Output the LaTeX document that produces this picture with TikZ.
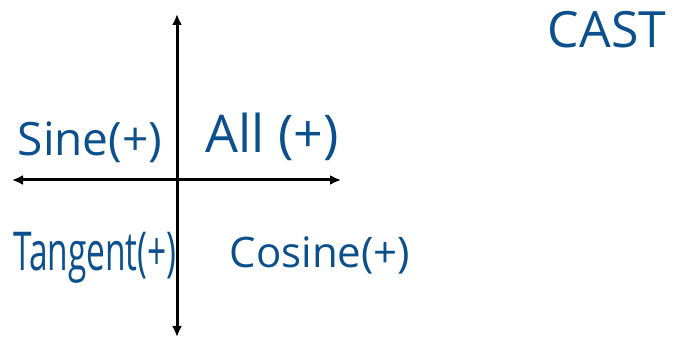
\documentclass[tikz,border=0pt]{standalone}
\usepackage{fontspec}
\setmainfont{Open Sans}
\usetikzlibrary{arrows.meta}
\begin{document}
\begin{tikzpicture}[x=1pt,y=-1pt,
  axis/.style={line width=3pt,{Latex[length=11pt,width=10pt]}-{Latex[length=11pt,width=10pt]}},
  hand/.style={text=handblue,inner sep=0pt}]
\definecolor{handblue}{HTML}{0B4F8C}
\useasboundingbox (0,0) rectangle (678,339);
\coordinate (top) at (177,14);
\coordinate (bot) at (177,337);
\coordinate (lft) at (12,180);
\coordinate (rgt) at (341,180);
\draw[axis] (bot) -- (top);
\draw[axis] (lft) -- (rgt);
\node[hand,font=\fontsize{50}{50}\selectfont] (cast) at (607,30) {CAST};
\node[hand,font=\fontsize{46}{46}\selectfont] (sine) at (90,142) {Sine(+)};
\node[hand,font=\fontsize{52}{52}\selectfont] (all) at (272,137) {All (+)};
\node[hand,font=\fontsize{33.5}{33.5}\selectfont] (tan) at (95,258) {\scalebox{1}[1.6]{Tangent(+)}};
\node[hand,font=\fontsize{42}{42}\selectfont] (cos) at (320,255) {Cosine(+)};
\end{tikzpicture}
\end{document}
